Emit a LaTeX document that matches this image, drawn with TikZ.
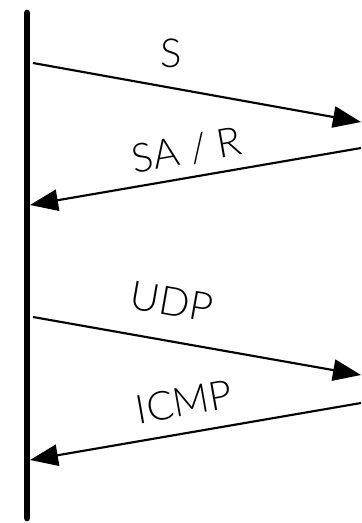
\documentclass[tikz,border=0pt]{standalone}
\usepackage{fontspec}
\setmainfont{Lato}[UprightFont=* Light]
\usetikzlibrary{arrows.meta}
\begin{document}
\begin{tikzpicture}[x=0.75pt,y=-0.75pt,
        msg/.style={line width=1.6pt,-{Triangle[length=21pt,width=16pt]}},
        lbl/.style={font=\fontsize{30}{32}\selectfont,inner sep=0pt}]
    \useasboundingbox (0,0) rectangle (361,523);
    % lifeline
    \coordinate (top) at (27,13);
    \coordinate (bot) at (27,518);
    \draw[line width=5pt,line cap=round]
        (top) -- (bot);
    % ends of the messages
    \coordinate (syn0) at (33,63);
    \coordinate (syn1) at (361,122);
    \coordinate (ack0) at (361,148);
    \coordinate (ack1) at (30,205);
    \coordinate (udp0) at (33,317);
    \coordinate (udp1) at (361,375);
    \coordinate (icmp0) at (361,403);
    \coordinate (icmp1) at (30,460);
    \draw[msg] (syn0) -- (syn1);
    \draw[msg] (ack0) -- (ack1);
    \draw[msg] (udp0) -- (udp1);
    \draw[msg] (icmp0) -- (icmp1);
    % labels
    \node[lbl] (synlbl) at (171,53) {S};
    \node[lbl,rotate=10] (acklbl) at (187,150) {SA / R};
    \node[lbl,rotate=-10] (udplbl) at (172,302) {UDP};
    \node[lbl,rotate=10] (icmplbl) at (184,402) {ICMP};
\end{tikzpicture}
\end{document}
